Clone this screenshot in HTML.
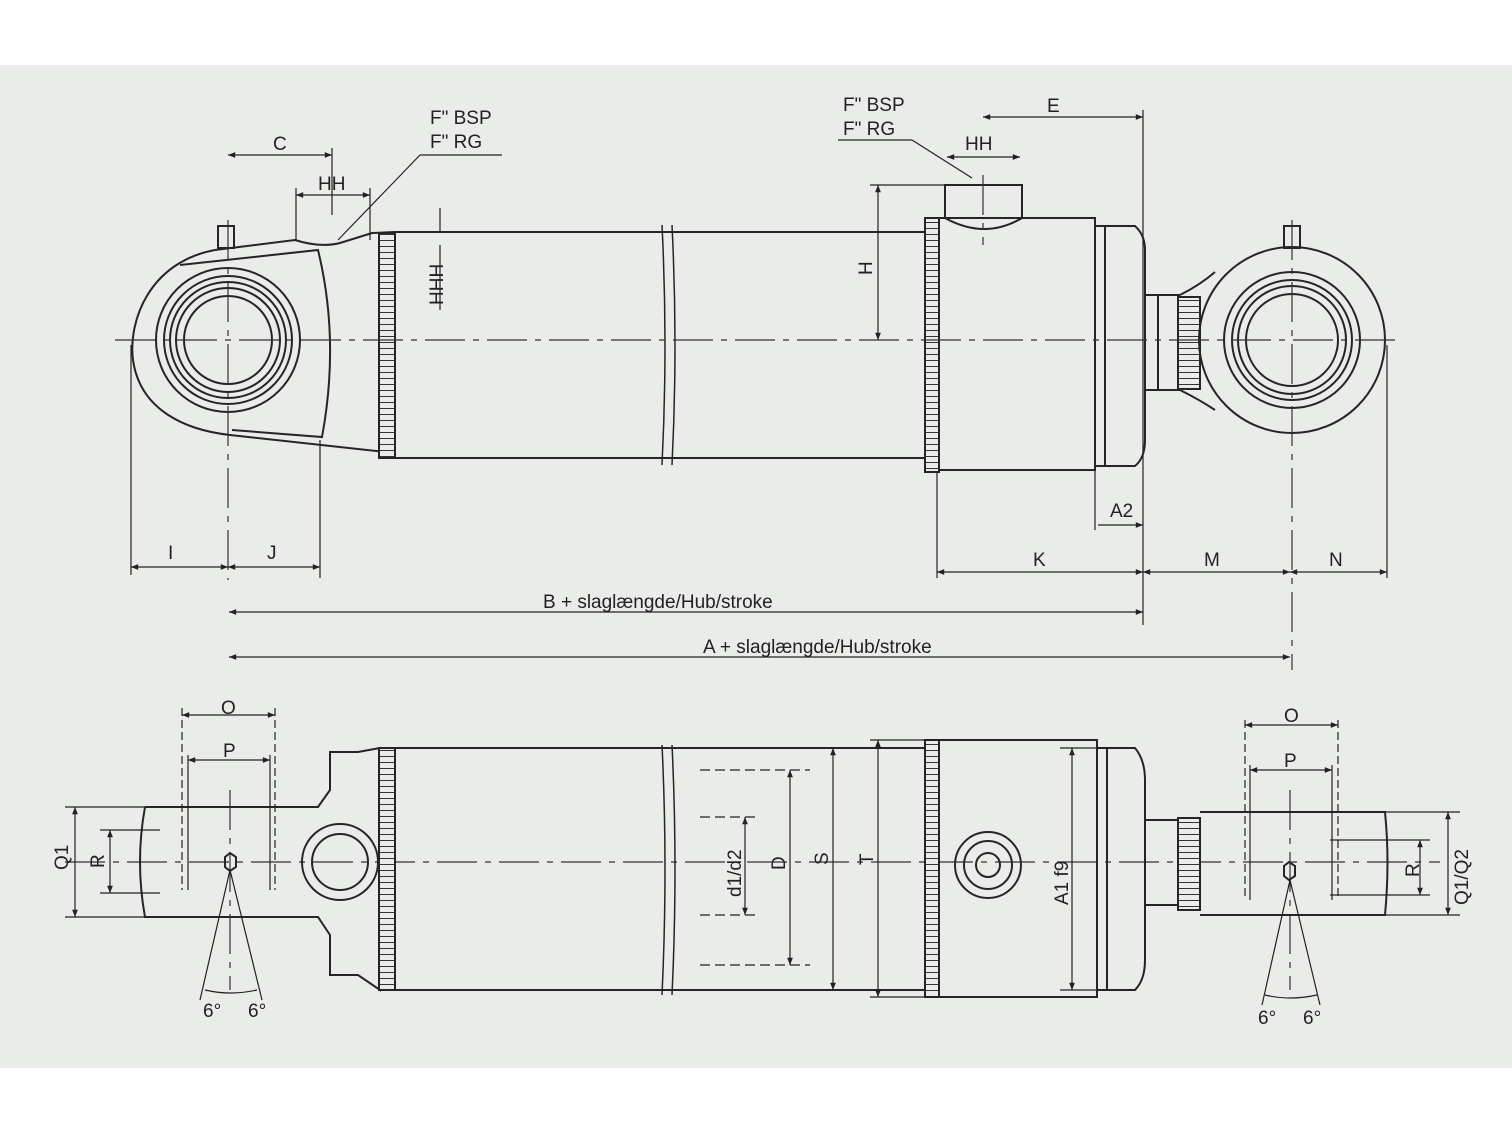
<!DOCTYPE html>
<html><head><meta charset="utf-8"><style>
html,body{margin:0;padding:0;background:#fff}
svg{display:block}
text{font-family:"Liberation Sans",sans-serif;font-size:19px;fill:#222}
</style></head><body>
<svg width="1512" height="1135" viewBox="0 0 1512 1135" xmlns="http://www.w3.org/2000/svg">
<defs>
<marker id="a" viewBox="0 0 10 10" refX="10" refY="5" markerWidth="9" markerHeight="6" orient="auto-start-reverse"><path d="M0,1 L10,5 L0,9z" fill="#222"/></marker>
<pattern id="kn" width="6" height="6" patternUnits="userSpaceOnUse"><rect width="6" height="6" fill="#eaece9"/><line x1="0" y1="0.5" x2="6" y2="0.5" stroke="#333" stroke-width="1"/></pattern>
<pattern id="kv" width="6" height="6" patternUnits="userSpaceOnUse"><rect width="6" height="6" fill="#eaece9"/><line x1="0.5" y1="0" x2="0.5" y2="6" stroke="#333" stroke-width="1"/></pattern>
</defs>
<rect x="0" y="65" width="1512" height="1003" fill="#eaece9"/>
<g fill="none" stroke="#252525" stroke-width="2">
<!-- TOP VIEW -->
<!-- left eye -->
<path d="M215,250 C150,262 128,320 133,360 C140,410 185,430 230,435 L385,452"/>
<path d="M215,250 L295,240 Q320,248 340,243 L372,233 L395,232"/>
<path d="M180,265 L318,250 Q340,340 322,437 L232,430"/>
<circle cx="228" cy="340" r="72"/><circle cx="228" cy="340" r="64"/><circle cx="228" cy="340" r="58"/><circle cx="228" cy="340" r="52"/><circle cx="228" cy="340" r="44"/>
<rect x="218" y="226" width="16" height="22"/>
<!-- barrel -->
<rect x="379" y="233" width="16" height="225" fill="url(#kn)"/>
<path d="M395,232 L925,232 M395,458 L925,458 M395,232 L395,458"/>
<rect x="925" y="218" width="14" height="254" fill="url(#kn)"/>
<path d="M939,218 L1095,218 L1095,470 L939,470"/>
<path d="M945,218 L945,185 L1022,185 L1022,218 Q985,240 945,218"/>
<path d="M1095,226 L1135,226 Q1145,235 1145,250 L1145,440 Q1145,458 1135,466 L1095,466 M1105,226 L1105,466"/>
<path d="M1145,295 L1180,295 M1145,390 L1180,390 M1158,295 L1158,390"/>
<rect x="1178" y="297" width="22" height="92" fill="url(#kn)"/>
<path d="M1180,295 Q1200,285 1215,272 M1180,390 Q1200,400 1215,410"/>
<!-- right eye -->
<circle cx="1292" cy="340" r="93"/><circle cx="1292" cy="340" r="68"/><circle cx="1292" cy="340" r="60"/><circle cx="1292" cy="340" r="54"/><circle cx="1292" cy="340" r="46"/>
<rect x="1284" y="226" width="16" height="22"/>
<path d="M662,225 Q668,345 662,465 M672,225 Q678,345 672,465" stroke-width="1.5"/>
</g>
<!-- center lines -->
<g stroke="#333" stroke-width="1.2" fill="none" stroke-dasharray="40,8,6,8">
<line x1="115" y1="340" x2="1400" y2="340"/>
<line x1="228" y1="220" x2="228" y2="580"/>
<line x1="1292" y1="220" x2="1292" y2="670"/>
<line x1="983" y1="175" x2="983" y2="245"/>
<line x1="65" y1="862" x2="1440" y2="862"/>
<line x1="230" y1="790" x2="230" y2="990"/>
<line x1="1290" y1="790" x2="1290" y2="990"/>
</g>
<!-- dimension lines -->
<g stroke="#222" stroke-width="1.2" fill="none">
<line x1="228" y1="155" x2="332" y2="155" marker-start="url(#a)" marker-end="url(#a)"/>
<line x1="332" y1="148" x2="332" y2="215"/>
<line x1="296" y1="195" x2="370" y2="195" marker-start="url(#a)" marker-end="url(#a)"/>
<line x1="296" y1="188" x2="296" y2="240"/><line x1="370" y1="188" x2="370" y2="240"/>
<line x1="338" y1="240" x2="420" y2="155"/><line x1="420" y1="155" x2="502" y2="155"/>
<line x1="440" y1="208" x2="440" y2="232"/><line x1="440" y1="245" x2="440" y2="310"/>
<line x1="947" y1="157" x2="1020" y2="157" marker-start="url(#a)" marker-end="url(#a)"/>
<line x1="838" y1="140" x2="912" y2="140"/><line x1="912" y1="140" x2="972" y2="178"/>
<line x1="983" y1="117" x2="1143" y2="117" marker-start="url(#a)" marker-end="url(#a)"/>
<line x1="1143" y1="110" x2="1143" y2="625"/>
<line x1="870" y1="185" x2="945" y2="185"/><line x1="878" y1="185" x2="878" y2="340" marker-start="url(#a)" marker-end="url(#a)"/>
<line x1="131" y1="345" x2="131" y2="575"/><line x1="320" y1="440" x2="320" y2="578"/>
<line x1="131" y1="567" x2="228" y2="567" marker-start="url(#a)" marker-end="url(#a)"/>
<line x1="228" y1="567" x2="320" y2="567" marker-start="url(#a)" marker-end="url(#a)"/>
<line x1="937" y1="472" x2="937" y2="578"/><line x1="1387" y1="345" x2="1387" y2="578"/>
<line x1="1095" y1="470" x2="1095" y2="530"/>
<line x1="1098" y1="525" x2="1143" y2="525" marker-end="url(#a)"/>
<line x1="937" y1="572" x2="1143" y2="572" marker-start="url(#a)" marker-end="url(#a)"/>
<line x1="1143" y1="572" x2="1290" y2="572" marker-start="url(#a)" marker-end="url(#a)"/>
<line x1="1290" y1="572" x2="1387" y2="572" marker-start="url(#a)" marker-end="url(#a)"/>
<line x1="229" y1="612" x2="1143" y2="612" marker-start="url(#a)" marker-end="url(#a)"/>
<line x1="229" y1="657" x2="1290" y2="657" marker-start="url(#a)" marker-end="url(#a)"/>
</g>
<!-- BOTTOM VIEW -->
<g fill="none" stroke="#252525" stroke-width="2">
<path d="M145,807 L318,807 L330,790 L330,752 L358,752 L380,748 L380,990 L358,975 L330,975 L330,935 L318,917 L145,917 Q135,862 145,807"/>
<circle cx="340" cy="862" r="38"/><circle cx="340" cy="862" r="28"/>
<rect x="379" y="748" width="16" height="242" fill="url(#kn)"/>
<path d="M395,748 L925,748 M395,990 L925,990"/>
<rect x="925" y="740" width="14" height="257" fill="url(#kn)"/>
<path d="M939,740 L1097,740 L1097,997 L939,997"/>
<path d="M1097,748 L1135,748 Q1145,760 1145,780 L1145,960 Q1145,980 1135,990 L1097,990 M1107,748 L1107,990"/>
<path d="M1145,820 L1180,820 M1145,905 L1180,905"/>
<rect x="1178" y="818" width="22" height="92" fill="url(#kn)"/>
<path d="M1200,812 L1385,812 Q1390,862 1385,915 L1200,915"/>
<circle cx="988" cy="865" r="33"/><circle cx="988" cy="865" r="24"/><circle cx="988" cy="865" r="12"/>
<path d="M662,745 Q668,868 662,995 M672,745 Q678,868 672,995" stroke-width="1.5"/>
<polygon points="225,857 230,853 236,857 236,867 230,871 225,867"/>
<polygon points="1284,866 1289,862 1295,866 1295,876 1289,880 1284,876"/>
</g>
<g stroke="#222" stroke-width="1.2" fill="none">
<line x1="182" y1="715" x2="275" y2="715" marker-start="url(#a)" marker-end="url(#a)"/>
<line x1="188" y1="760" x2="270" y2="760" marker-start="url(#a)" marker-end="url(#a)"/>
<line x1="182" y1="708" x2="182" y2="890" stroke-dasharray="8,4"/><line x1="275" y1="708" x2="275" y2="890" stroke-dasharray="8,4"/>
<line x1="188" y1="755" x2="188" y2="890"/><line x1="270" y1="755" x2="270" y2="890"/>
<line x1="1245" y1="725" x2="1338" y2="725" marker-start="url(#a)" marker-end="url(#a)"/>
<line x1="1250" y1="770" x2="1332" y2="770" marker-start="url(#a)" marker-end="url(#a)"/>
<line x1="1245" y1="720" x2="1245" y2="900" stroke-dasharray="8,4"/><line x1="1338" y1="720" x2="1338" y2="900" stroke-dasharray="8,4"/>
<line x1="1250" y1="765" x2="1250" y2="900"/><line x1="1332" y1="765" x2="1332" y2="900"/>
<line x1="65" y1="807" x2="145" y2="807"/><line x1="65" y1="917" x2="145" y2="917"/>
<line x1="75" y1="807" x2="75" y2="917" marker-start="url(#a)" marker-end="url(#a)"/>
<line x1="100" y1="830" x2="160" y2="830"/><line x1="100" y1="893" x2="160" y2="893"/>
<line x1="110" y1="830" x2="110" y2="893" marker-start="url(#a)" marker-end="url(#a)"/>
<line x1="1385" y1="812" x2="1460" y2="812"/><line x1="1385" y1="915" x2="1460" y2="915"/>
<line x1="1448" y1="812" x2="1448" y2="915" marker-start="url(#a)" marker-end="url(#a)"/>
<line x1="1330" y1="840" x2="1430" y2="840"/><line x1="1330" y1="895" x2="1430" y2="895"/>
<line x1="1420" y1="840" x2="1420" y2="895" marker-start="url(#a)" marker-end="url(#a)"/>
<line x1="700" y1="770" x2="810" y2="770" stroke-dasharray="10,5"/><line x1="700" y1="965" x2="810" y2="965" stroke-dasharray="10,5"/>
<line x1="700" y1="817" x2="760" y2="817" stroke-dasharray="10,5"/><line x1="700" y1="915" x2="760" y2="915" stroke-dasharray="10,5"/>
<line x1="745" y1="817" x2="745" y2="915" marker-start="url(#a)" marker-end="url(#a)"/>
<line x1="790" y1="770" x2="790" y2="965" marker-start="url(#a)" marker-end="url(#a)"/>
<line x1="833" y1="748" x2="833" y2="990" marker-start="url(#a)" marker-end="url(#a)"/>
<line x1="870" y1="740" x2="940" y2="740"/><line x1="870" y1="997" x2="940" y2="997"/>
<line x1="878" y1="740" x2="878" y2="997" marker-start="url(#a)" marker-end="url(#a)"/>
<line x1="1060" y1="748" x2="1100" y2="748"/><line x1="1060" y1="990" x2="1100" y2="990"/>
<line x1="1072" y1="748" x2="1072" y2="990" marker-start="url(#a)" marker-end="url(#a)"/>
<line x1="230" y1="870" x2="200" y2="1000"/><line x1="230" y1="870" x2="262" y2="1000"/>
<line x1="1290" y1="880" x2="1262" y2="1005"/><line x1="1290" y1="880" x2="1320" y2="1005"/>
<path d="M205,990 Q230,996 257,990"/><path d="M1265,995 Q1290,1001 1317,995"/>
</g>
<!-- labels -->
<text x="273" y="150">C</text>
<text x="318" y="190">HH</text>
<text x="430" y="124">F" BSP</text><text x="430" y="148">F" RG</text>
<text x="443" y="305" transform="rotate(-90 443 305)">HHH</text>
<text x="843" y="111">F" BSP</text><text x="843" y="135">F" RG</text>
<text x="965" y="150">HH</text>
<text x="1047" y="112">E</text>
<text x="872" y="275" transform="rotate(-90 872 275)">H</text>
<text x="1110" y="517">A2</text>
<text x="168" y="559">I</text><text x="267" y="559">J</text>
<text x="1033" y="566">K</text><text x="1204" y="566">M</text><text x="1329" y="566">N</text>
<text x="543" y="608">B  +  slaglængde/Hub/stroke</text>
<text x="703" y="653">A  +  slaglængde/Hub/stroke</text>
<text x="221" y="714">O</text><text x="223" y="757">P</text>
<text x="1284" y="722">O</text><text x="1284" y="767">P</text>
<text x="68" y="870" transform="rotate(-90 68 870)">Q1</text>
<text x="104" y="868" transform="rotate(-90 104 868)">R</text>
<text x="1419" y="877" transform="rotate(-90 1419 877)">R</text>
<text x="1468" y="905" transform="rotate(-90 1468 905)">Q1/Q2</text>
<text x="741" y="897" transform="rotate(-90 741 897)">d1/d2</text>
<text x="785" y="870" transform="rotate(-90 785 870)">D</text>
<text x="828" y="865" transform="rotate(-90 828 865)">S</text>
<text x="873" y="865" transform="rotate(-90 873 865)">T</text>
<text x="1068" y="905" transform="rotate(-90 1068 905)">A1  f9</text>
<text x="203" y="1017">6°</text><text x="248" y="1017">6°</text>
<text x="1258" y="1024">6°</text><text x="1303" y="1024">6°</text>
</svg>
</body></html>
